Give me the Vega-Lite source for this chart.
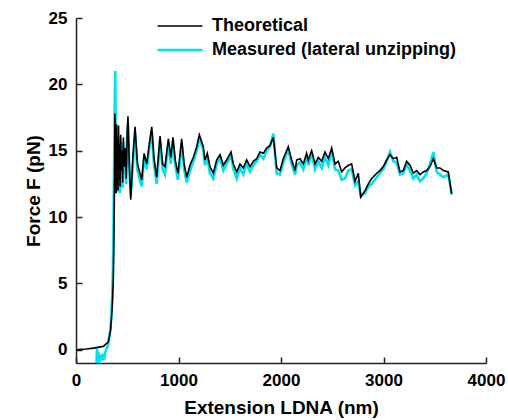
{
  "$schema": "https://vega.github.io/schema/vega-lite/v6.json",
  "width": 410,
  "height": 345,
  "autosize": {"type": "none"},
  "padding": {"left": 76, "top": 18, "right": 22, "bottom": 57},
  "background": "white",
  "data": {
    "values": [
      {"s":"T","x":0,"y":0.0},{"s":"T","x":100,"y":0.05},{"s":"T","x":169,"y":0.12},{"s":"T","x":267,"y":0.25},{"s":"T","x":315,"y":0.6},{"s":"T","x":338,"y":1.5},{"s":"T","x":354,"y":3.3},{"s":"T","x":364,"y":5.3},{"s":"T","x":370,"y":8.5},{"s":"T","x":375,"y":12.0},
      {"s":"T","x":380,"y":17.8},{"s":"T","x":384,"y":12.2},{"s":"T","x":388,"y":16.5},{"s":"T","x":392,"y":11.8},{"s":"T","x":396,"y":17.0},{"s":"T","x":400,"y":12.5},{"s":"T","x":405,"y":15.8},{"s":"T","x":410,"y":12.0},{"s":"T","x":415,"y":16.9},{"s":"T","x":420,"y":12.8},
      {"s":"T","x":425,"y":15.5},{"s":"T","x":430,"y":12.3},{"s":"T","x":436,"y":16.2},{"s":"T","x":442,"y":13.5},{"s":"T","x":448,"y":15.0},{"s":"T","x":455,"y":12.6},{"s":"T","x":462,"y":16.0},{"s":"T","x":470,"y":13.8},{"s":"T","x":480,"y":15.2},{"s":"T","x":490,"y":12.9},
      {"s":"T","x":500,"y":16.5},{"s":"T","x":507,"y":17.6},{"s":"T","x":520,"y":14.0},{"s":"T","x":534,"y":11.3},{"s":"T","x":555,"y":14.5},{"s":"T","x":576,"y":16.8},{"s":"T","x":600,"y":14.0},{"s":"T","x":641,"y":12.8},{"s":"T","x":665,"y":14.8},{"s":"T","x":690,"y":14.0},
      {"s":"T","x":715,"y":15.5},{"s":"T","x":739,"y":16.8},{"s":"T","x":760,"y":14.5},{"s":"T","x":787,"y":13.0},{"s":"T","x":820,"y":16.1},{"s":"T","x":845,"y":14.0},{"s":"T","x":868,"y":13.8},{"s":"T","x":901,"y":15.9},{"s":"T","x":925,"y":14.5},{"s":"T","x":946,"y":16.0},
      {"s":"T","x":970,"y":14.2},{"s":"T","x":995,"y":13.3},{"s":"T","x":1031,"y":15.9},{"s":"T","x":1055,"y":14.0},{"s":"T","x":1080,"y":13.0},{"s":"T","x":1112,"y":13.9},{"s":"T","x":1145,"y":14.5},{"s":"T","x":1178,"y":15.3},{"s":"T","x":1203,"y":16.2},{"s":"T","x":1242,"y":15.3},
      {"s":"T","x":1258,"y":14.3},{"s":"T","x":1281,"y":14.8},{"s":"T","x":1307,"y":13.8},{"s":"T","x":1340,"y":13.3},{"s":"T","x":1372,"y":14.3},{"s":"T","x":1405,"y":14.7},{"s":"T","x":1437,"y":13.9},{"s":"T","x":1470,"y":14.3},{"s":"T","x":1512,"y":14.9},{"s":"T","x":1535,"y":14.0},
      {"s":"T","x":1568,"y":13.4},{"s":"T","x":1600,"y":14.0},{"s":"T","x":1632,"y":13.7},{"s":"T","x":1665,"y":14.3},{"s":"T","x":1698,"y":13.8},{"s":"T","x":1730,"y":14.2},{"s":"T","x":1763,"y":14.4},{"s":"T","x":1795,"y":14.9},{"s":"T","x":1828,"y":14.8},{"s":"T","x":1860,"y":15.2},
      {"s":"T","x":1893,"y":15.4},{"s":"T","x":1925,"y":16.0},{"s":"T","x":1958,"y":13.7},{"s":"T","x":1990,"y":13.5},{"s":"T","x":2022,"y":14.4},{"s":"T","x":2071,"y":15.3},{"s":"T","x":2104,"y":14.3},{"s":"T","x":2137,"y":13.5},{"s":"T","x":2153,"y":14.3},{"s":"T","x":2185,"y":14.4},
      {"s":"T","x":2218,"y":14.0},{"s":"T","x":2250,"y":14.8},{"s":"T","x":2266,"y":14.3},{"s":"T","x":2299,"y":15.0},{"s":"T","x":2332,"y":14.0},{"s":"T","x":2364,"y":14.5},{"s":"T","x":2397,"y":14.2},{"s":"T","x":2429,"y":14.9},{"s":"T","x":2462,"y":14.4},{"s":"T","x":2494,"y":15.2},
      {"s":"T","x":2527,"y":14.0},{"s":"T","x":2559,"y":14.2},{"s":"T","x":2592,"y":13.4},{"s":"T","x":2624,"y":13.7},{"s":"T","x":2657,"y":13.9},{"s":"T","x":2689,"y":14.0},{"s":"T","x":2722,"y":12.7},{"s":"T","x":2754,"y":13.3},{"s":"T","x":2778,"y":11.5},{"s":"T","x":2820,"y":12.0},
      {"s":"T","x":2852,"y":12.5},{"s":"T","x":2885,"y":12.9},{"s":"T","x":2934,"y":13.3},{"s":"T","x":2966,"y":13.5},{"s":"T","x":2998,"y":13.8},{"s":"T","x":3031,"y":14.3},{"s":"T","x":3063,"y":14.7},{"s":"T","x":3096,"y":14.4},{"s":"T","x":3128,"y":14.5},{"s":"T","x":3161,"y":13.4},
      {"s":"T","x":3193,"y":13.5},{"s":"T","x":3226,"y":14.2},{"s":"T","x":3259,"y":13.9},{"s":"T","x":3291,"y":13.3},{"s":"T","x":3323,"y":13.5},{"s":"T","x":3356,"y":13.2},{"s":"T","x":3388,"y":13.4},{"s":"T","x":3421,"y":13.5},{"s":"T","x":3454,"y":13.8},{"s":"T","x":3486,"y":14.4},
      {"s":"T","x":3519,"y":13.7},{"s":"T","x":3551,"y":13.7},{"s":"T","x":3584,"y":13.5},{"s":"T","x":3632,"y":13.4},{"s":"T","x":3665,"y":11.7},
      {"s":"M","x":200,"y":-1.0},{"s":"M","x":205,"y":0.1},{"s":"M","x":212,"y":-1.0},{"s":"M","x":220,"y":-0.2},{"s":"M","x":228,"y":-1.0},{"s":"M","x":240,"y":-0.4},{"s":"M","x":250,"y":-0.8},{"s":"M","x":262,"y":-0.3},{"s":"M","x":272,"y":-0.8},{"s":"M","x":285,"y":-0.2},
      {"s":"M","x":300,"y":0.1},{"s":"M","x":315,"y":0.4},{"s":"M","x":330,"y":1.2},{"s":"M","x":342,"y":2.2},{"s":"M","x":352,"y":3.8},{"s":"M","x":360,"y":6.0},{"s":"M","x":366,"y":9.5},{"s":"M","x":372,"y":14.0},{"s":"M","x":378,"y":18.5},{"s":"M","x":383,"y":21.0},
      {"s":"M","x":387,"y":16.0},{"s":"M","x":391,"y":12.4},{"s":"M","x":395,"y":16.2},{"s":"M","x":399,"y":11.9},{"s":"M","x":403,"y":15.0},{"s":"M","x":408,"y":12.2},{"s":"M","x":413,"y":16.0},{"s":"M","x":418,"y":12.0},{"s":"M","x":423,"y":15.2},{"s":"M","x":428,"y":11.8},
      {"s":"M","x":434,"y":15.8},{"s":"M","x":440,"y":12.8},{"s":"M","x":446,"y":14.6},{"s":"M","x":453,"y":12.2},{"s":"M","x":460,"y":15.6},{"s":"M","x":468,"y":13.2},{"s":"M","x":478,"y":14.8},{"s":"M","x":488,"y":12.5},{"s":"M","x":498,"y":15.8},{"s":"M","x":507,"y":17.0},
      {"s":"M","x":520,"y":13.6},{"s":"M","x":534,"y":11.6},{"s":"M","x":555,"y":14.0},{"s":"M","x":576,"y":16.4},{"s":"M","x":600,"y":13.5},{"s":"M","x":641,"y":12.3},{"s":"M","x":665,"y":14.5},{"s":"M","x":690,"y":13.6},{"s":"M","x":715,"y":15.2},{"s":"M","x":739,"y":16.5},
      {"s":"M","x":760,"y":14.0},{"s":"M","x":787,"y":12.5},{"s":"M","x":820,"y":15.7},{"s":"M","x":845,"y":13.6},{"s":"M","x":868,"y":13.2},{"s":"M","x":901,"y":15.6},{"s":"M","x":925,"y":14.0},{"s":"M","x":946,"y":15.7},{"s":"M","x":970,"y":13.8},{"s":"M","x":995,"y":12.8},
      {"s":"M","x":1031,"y":15.5},{"s":"M","x":1055,"y":13.6},{"s":"M","x":1080,"y":12.6},{"s":"M","x":1112,"y":13.5},{"s":"M","x":1145,"y":14.2},{"s":"M","x":1178,"y":15.0},{"s":"M","x":1203,"y":16.0},{"s":"M","x":1242,"y":15.0},{"s":"M","x":1258,"y":13.9},{"s":"M","x":1281,"y":14.5},
      {"s":"M","x":1307,"y":13.3},{"s":"M","x":1340,"y":12.9},{"s":"M","x":1372,"y":14.0},{"s":"M","x":1405,"y":14.5},{"s":"M","x":1437,"y":13.5},{"s":"M","x":1470,"y":14.0},{"s":"M","x":1512,"y":14.7},{"s":"M","x":1535,"y":13.6},{"s":"M","x":1568,"y":12.9},{"s":"M","x":1600,"y":13.7},
      {"s":"M","x":1632,"y":13.2},{"s":"M","x":1665,"y":14.0},{"s":"M","x":1698,"y":13.4},{"s":"M","x":1730,"y":13.9},{"s":"M","x":1763,"y":14.2},{"s":"M","x":1795,"y":14.7},{"s":"M","x":1828,"y":14.4},{"s":"M","x":1860,"y":15.0},{"s":"M","x":1893,"y":15.3},{"s":"M","x":1925,"y":16.3},
      {"s":"M","x":1958,"y":13.3},{"s":"M","x":1990,"y":13.2},{"s":"M","x":2022,"y":14.1},{"s":"M","x":2071,"y":15.1},{"s":"M","x":2104,"y":14.0},{"s":"M","x":2137,"y":13.2},{"s":"M","x":2153,"y":13.9},{"s":"M","x":2185,"y":14.1},{"s":"M","x":2218,"y":13.6},{"s":"M","x":2250,"y":14.6},
      {"s":"M","x":2266,"y":13.9},{"s":"M","x":2299,"y":14.8},{"s":"M","x":2332,"y":13.6},{"s":"M","x":2364,"y":14.2},{"s":"M","x":2397,"y":13.7},{"s":"M","x":2429,"y":14.5},{"s":"M","x":2462,"y":13.9},{"s":"M","x":2494,"y":15.0},{"s":"M","x":2527,"y":13.6},{"s":"M","x":2559,"y":13.5},
      {"s":"M","x":2592,"y":12.8},{"s":"M","x":2624,"y":12.9},{"s":"M","x":2657,"y":13.5},{"s":"M","x":2689,"y":13.6},{"s":"M","x":2722,"y":12.4},{"s":"M","x":2754,"y":12.7},{"s":"M","x":2778,"y":11.6},{"s":"M","x":2820,"y":11.8},{"s":"M","x":2852,"y":12.3},{"s":"M","x":2885,"y":12.5},
      {"s":"M","x":2934,"y":13.0},{"s":"M","x":2966,"y":13.3},{"s":"M","x":2998,"y":13.6},{"s":"M","x":3031,"y":14.2},{"s":"M","x":3063,"y":14.9},{"s":"M","x":3096,"y":14.2},{"s":"M","x":3128,"y":14.1},{"s":"M","x":3161,"y":13.2},{"s":"M","x":3193,"y":13.3},{"s":"M","x":3226,"y":14.0},
      {"s":"M","x":3259,"y":13.5},{"s":"M","x":3291,"y":12.9},{"s":"M","x":3323,"y":13.2},{"s":"M","x":3356,"y":12.7},{"s":"M","x":3388,"y":12.9},{"s":"M","x":3421,"y":13.3},{"s":"M","x":3454,"y":14.0},{"s":"M","x":3486,"y":14.9},{"s":"M","x":3519,"y":13.4},{"s":"M","x":3551,"y":13.2},
      {"s":"M","x":3584,"y":13.0},{"s":"M","x":3632,"y":13.2},{"s":"M","x":3665,"y":11.8}
    ]
  },
  "encoding": {
    "x": {"field": "x", "type": "quantitative", "scale": {"domain": [0, 4000], "nice": false},
      "axis": {"values": [0, 1000, 2000, 3000, 4000], "format": "d", "title": "Extension LDNA (nm)", "titlePadding": 10, "labelBound": false, "labelFlush": false, "labelOverlap": false}},
    "y": {"field": "y", "type": "quantitative", "scale": {"domain": [-1, 25], "nice": false, "zero": false},
      "axis": {"values": [0, 5, 10, 15, 20, 25], "format": "d", "title": "Force F (pN)", "titlePadding": 5, "labelBound": false, "labelFlush": false, "labelOverlap": false}},
    "color": {"field": "s", "type": "nominal", "scale": {"domain": ["T", "M"], "range": ["#000000", "#00e1f0"]},
      "legend": {"title": null, "orient": "none", "legendX": 80, "legendY": -3, "symbolType": "stroke", "symbolSize": 2025, "labelOffset": 8, "clipHeight": 22, "rowPadding": 2, "padding": 0, "labelLimit": 0,
        "labelFont": "Liberation Sans", "labelFontWeight": "bold", "labelFontSize": 18, "labelColor": "#000",
        "labelExpr": "datum.label == 'T' ? 'Theoretical' : 'Measured (lateral unzipping)'"}},
    "strokeWidth": {"field": "s", "type": "nominal", "scale": {"domain": ["T", "M"], "range": [1.6, 2.6]}, "legend": null}
  },
  "layer": [
    {"transform": [{"filter": "datum.s == 'M'"}], "mark": {"type": "line", "clip": true}},
    {"transform": [{"filter": "datum.s == 'T'"}], "mark": {"type": "line", "clip": true}}
  ],
  "config": {
    "view": {"stroke": null},
    "font": "Liberation Sans",
    "axis": {"grid": false, "domainColor": "#222", "domainWidth": 1.5, "tickColor": "#222", "tickWidth": 1.5, "tickSize": -6, "labelPadding": 15,
      "labelFont": "Liberation Sans", "labelFontWeight": "bold", "labelFontSize": 17, "labelColor": "#000",
      "titleFont": "Liberation Sans", "titleFontWeight": "bold", "titleFontSize": 19, "titleColor": "#000"}
  }
}
